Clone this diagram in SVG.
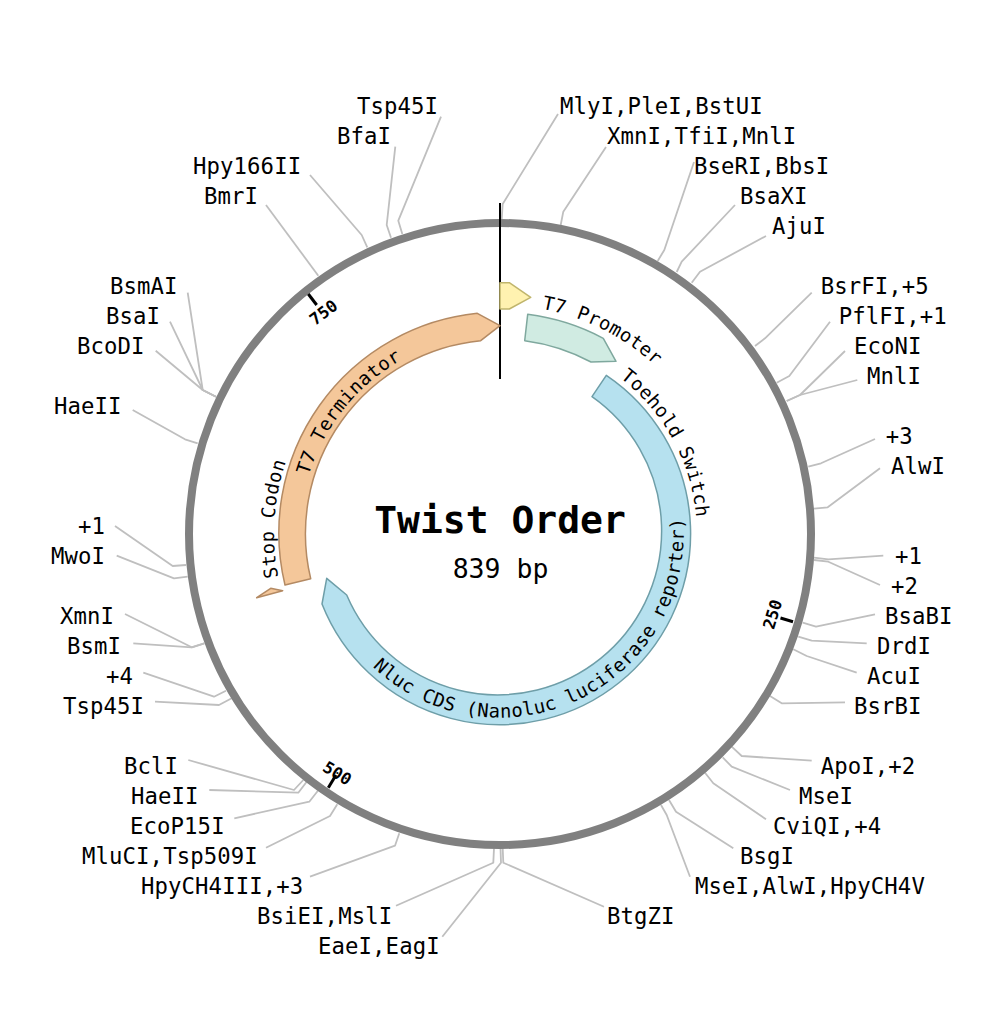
<svg xmlns="http://www.w3.org/2000/svg" width="984" height="1032" viewBox="0 0 984 1032">
<style>
text{font-family:"DejaVu Sans Mono","Liberation Mono",monospace;fill:#000}
.site{font-size:22.3px;letter-spacing:.1px}
.feat{font-size:18.8px;letter-spacing:.4px}
.tick{font-size:16.5px;font-weight:700;text-anchor:middle}
#connectors polyline{fill:none;stroke:#bfbfbf;stroke-width:1.8;stroke-linejoin:round}
.mark{stroke:#000;stroke-width:3;fill:none}
.f{stroke-width:1.5;stroke-linejoin:round}
.orange{fill:#f4c79a;stroke:#b48a63}
.blue{fill:#b6e1ef;stroke:#6e9ea8}
</style>
<defs>
<path id="pPromoter" d="M541.7 308.8A229 229 0 0 1 725.5 494.2"/>
<path id="pToehold" d="M619.9 377.7A197 197 0 0 1 670.6 632.5"/>
<path id="pTerm" d="M308.7 475.5A200 200 0 0 1 500 334"/>
<path id="pStop" d="M278.2 577.1A226 226 0 0 1 304.3 421"/>
<path id="pNluc" d="M372.7 666.7A184 184 0 0 0 659.3 442"/>
</defs>
<rect width="984" height="1032" fill="#fff"/>
<g id="connectors">
<polyline points="558,114 502.7,204 501.7,219"/>
<polyline points="606,147 563.3,211.7 560.7,225"/>
<polyline points="694,162 664.3,250 657.7,261"/>
<polyline points="735,205 681.7,261.7 676.7,272"/>
<polyline points="766,236 700,271.7 691.7,282.7"/>
<polyline points="811.7,292.7 765,338.3 755,346"/>
<polyline points="830,321.7 789.3,376 776.7,382.7"/>
<polyline points="845,351 800,395 786.7,401"/>
<polyline points="857.3,380 800,395 786.7,401"/>
<polyline points="875,439 821,463.3 808.3,466.7"/>
<polyline points="880,468.3 827.7,507.3 814,508.7"/>
<polyline points="883.3,555.7 828.3,559.3 814,557.7"/>
<polyline points="880,585 828.3,561.7 814,560"/>
<polyline points="875,614.3 816,626.7 802.7,622.7"/>
<polyline points="866.7,643.3 811.7,640.7 798.3,636.7"/>
<polyline points="856.7,672.7 806.7,656 793.3,649.3"/>
<polyline points="845,702.3 781.7,703.3 770,696"/>
<polyline points="811.7,760.7 741.7,756 731.7,746.7"/>
<polyline points="790,790 731.7,766.7 722.7,757.3"/>
<polyline points="766,819.3 713.3,783.3 705,772.7"/>
<polyline points="733.3,848.3 676,811.7 669,800"/>
<polyline points="690,876.7 666.7,815 661,805"/>
<polyline points="604,906.7 503.3,862.7 502.7,848.3"/>
<polyline points="442.3,936.7 501,862.7 500.5,848"/>
<polyline points="396,905.7 493.3,862.7 494,848.3"/>
<polyline points="310,876.7 395,845.7 399.3,833.3"/>
<polyline points="266,847.7 330,816 337.3,804.3"/>
<polyline points="234.3,818.3 309.3,801.7 317.7,791"/>
<polyline points="209.3,790 298.3,792.7 306.7,781.7"/>
<polyline points="188.3,760 294,790 303.3,780"/>
<polyline points="115,526 172.7,566 186,565"/>
<polyline points="116.7,555.7 174,578.3 187.7,576.7"/>
<polyline points="125,614 191.7,647.3 204.3,643.3"/>
<polyline points="133.3,643.3 191.7,647.3 204.3,643.3"/>
<polyline points="143.3,672.7 214,696.7 226,690.7"/>
<polyline points="155,701.7 219,705 231.7,698.3"/>
<polyline points="187.7,292.7 202.7,390 216,396.7"/>
<polyline points="170,321.7 202.7,390 216,396.7"/>
<polyline points="155.7,350.7 202.7,390 216,396.7"/>
<polyline points="132.7,410 185,439.3 197.7,443.3"/>
<polyline points="441,116.7 398.3,220.7 402.3,234"/>
<polyline points="395.3,146.7 386.7,225 391,237.7"/>
<polyline points="310,175 361.7,235 367.3,247.3"/>
<polyline points="266,205 318.3,275.7"/>
</g>
<g id="backbone"><circle cx="500" cy="534" r="311" fill="none" stroke="#808080" stroke-width="8"/></g>
<g id="origin"><line class="mark" x1="500" y1="203" x2="500" y2="379" style="stroke-width:2"/></g>
<g id="tick-250"><line class="mark" x1="793" y1="621.7" x2="780.5" y2="618"/><text class="tick" transform="translate(778 616) rotate(-73)">250</text></g>
<g id="tick-500"><line class="mark" x1="336" y1="775" x2="328.3" y2="787.7"/><text class="tick" transform="translate(334 771) rotate(32)" dy="6" dx="4">500</text></g>
<g id="tick-750"><line class="mark" x1="308.3" y1="294" x2="316.7" y2="305"/><text class="tick" transform="translate(327 317) rotate(-37)">750</text></g>
<g id="t7-promoter"><path class="f" fill="#fff2b0" stroke="#c0b56c" d="M500 282.7H509.3L530.7 297.3 509.3 309H500Z"/></g>
<g id="t7-promoter-2"><path class="f" fill="#d0ebe2" stroke="#7fa89e" d="M527.7 314.3A221 221 0 0 1 603.3 338.3L616 361.3 591 362A195 195 0 0 0 524.7 340.7Z"/><text class="feat"><textPath href="#pPromoter">T7 Promoter</textPath></text></g>
<g id="toehold-switch"><text class="feat"><textPath href="#pToehold">Toehold Switch</textPath></text></g>
<g id="nluc-cds"><path class="f blue" d="M606.3 375.3A191 191 0 1 1 322 604L326.7 578.3 346.7 595A164 164 0 1 0 592 396.7Z"/><text class="feat"><textPath href="#pNluc">Nluc CDS (Nanoluc luciferase reporter)</textPath></text></g>
<g id="t7-terminator"><path class="f orange" d="M285 585A221 221 0 0 1 477.3 313.3L500 325.7 480.7 340.7A194 194 0 0 0 310.7 578.7Z"/><text class="feat"><textPath href="#pTerm">T7 Terminator</textPath></text></g>
<g id="stop-codon"><path class="f orange" d="M256.7 597.7L270.7 588.3 282.7 590.7Z"/><text class="feat"><textPath href="#pStop">Stop Codon</textPath></text></g>
<g id="title"><text x="500" y="533" text-anchor="middle" font-size="38" font-weight="700">Twist Order</text><text x="500.5" y="578" text-anchor="middle" font-size="26.5">839 bp</text></g>
<g id="site-labels">
<text class="site" x="357" y="113.5">Tsp45I</text>
<text class="site" x="337" y="143.5">BfaI</text>
<text class="site" x="193" y="173.5">Hpy166II</text>
<text class="site" x="204" y="203.5">BmrI</text>
<text class="site" x="560" y="113.5">MlyI,PleI,BstUI</text>
<text class="site" x="607" y="143.5">XmnI,TfiI,MnlI</text>
<text class="site" x="694" y="173.5">BseRI,BbsI</text>
<text class="site" x="740" y="203.5">BsaXI</text>
<text class="site" x="772" y="233.5">AjuI</text>
<text class="site" x="820.7" y="293.5">BsrFI,+5</text>
<text class="site" x="838.7" y="323.5">PflFI,+1</text>
<text class="site" x="854" y="353.5">EcoNI</text>
<text class="site" x="867" y="383.5">MnlI</text>
<text class="site" x="885.7" y="443.5">+3</text>
<text class="site" x="891" y="473.5">AlwI</text>
<text class="site" x="895" y="563.5">+1</text>
<text class="site" x="891" y="593.5">+2</text>
<text class="site" x="885" y="623.5">BsaBI</text>
<text class="site" x="877" y="653.5">DrdI</text>
<text class="site" x="867" y="683.5">AcuI</text>
<text class="site" x="854" y="713.5">BsrBI</text>
<text class="site" x="820.7" y="773.5">ApoI,+2</text>
<text class="site" x="799" y="803.5">MseI</text>
<text class="site" x="773" y="833.5">CviQI,+4</text>
<text class="site" x="740" y="863.5">BsgI</text>
<text class="site" x="695" y="893.5">MseI,AlwI,HpyCH4V</text>
<text class="site" x="607" y="923.5">BtgZI</text>
<text class="site" x="318" y="953.5">EaeI,EagI</text>
<text class="site" x="257" y="923.5">BsiEI,MslI</text>
<text class="site" x="141" y="893.5">HpyCH4III,+3</text>
<text class="site" x="82" y="863.5">MluCI,Tsp509I</text>
<text class="site" x="130" y="833.5">EcoP15I</text>
<text class="site" x="131" y="803.5">HaeII</text>
<text class="site" x="124" y="773.5">BclI</text>
<text class="site" x="78" y="533.5">+1</text>
<text class="site" x="51" y="563.5">MwoI</text>
<text class="site" x="60" y="623.5">XmnI</text>
<text class="site" x="67" y="653.5">BsmI</text>
<text class="site" x="106" y="683.5">+4</text>
<text class="site" x="63" y="713.5">Tsp45I</text>
<text class="site" x="110" y="293.5">BsmAI</text>
<text class="site" x="106" y="323.5">BsaI</text>
<text class="site" x="77" y="353.5">BcoDI</text>
<text class="site" x="54" y="413.5">HaeII</text>
</g>
</svg>
